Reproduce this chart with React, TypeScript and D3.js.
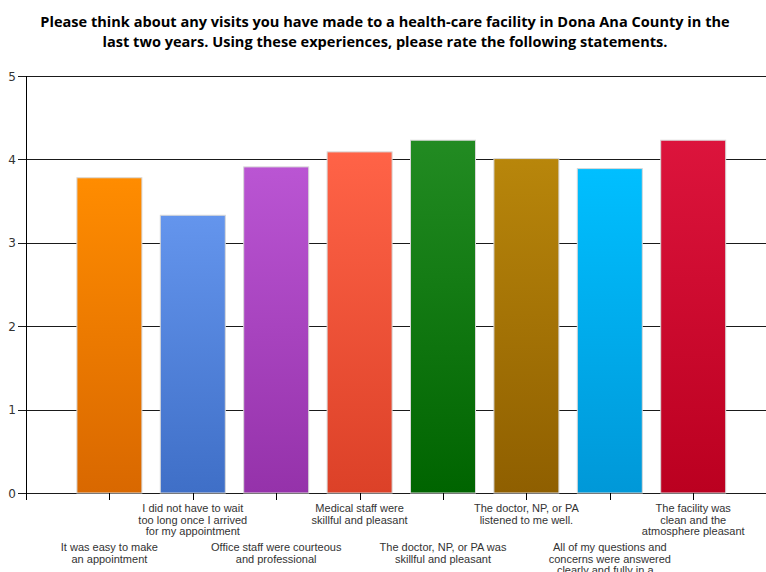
import React, { useEffect, useRef } from "react";
import * as d3 from "d3";

const WIDTH = 766;
const HEIGHT = 572;

const titleLines = [
  "Please think about any visits you have made to a health-care facility in Dona Ana County in the",
  "last two years. Using these experiences, please rate the following statements.",
];

const statements = [
  ["It was easy to make", "an appointment"],
  ["I did not have to wait", "too long once I arrived", "for my appointment"],
  ["Office staff were courteous", "and professional"],
  ["Medical staff were", "skillful and pleasant"],
  ["The doctor, NP, or PA was", "skillful and pleasant"],
  ["The doctor, NP, or PA", "listened to me well."],
  ["All of my questions and", "concerns were answered", "clearly and fully in a..."],
  ["The facility was", "clean and the", "atmosphere pleasant"],
];

const ratings = [3.78, 3.33, 3.91, 4.09, 4.23, 4.01, 3.89, 4.23];

const topColors = ["#ff8c00", "#6495ed", "#ba55d3", "#ff6347", "#228b22", "#b8860b", "#00bfff", "#dc143c"];
const bottomColors = ["#d96800", "#3f6fc7", "#9532aa", "#dc4128", "#006400", "#8f5f00", "#0098d8", "#bb0020"];

const yTicks = [0, 1, 2, 3, 4, 5];

export default function App() {
  const ref = useRef<SVGSVGElement | null>(null);

  useEffect(() => {
    const svg = d3.select(ref.current);
    svg.selectAll("*").remove();

    const left = 26;
    const top = 76;
    const bottom = 493;

    const y = d3.scaleLinear().domain([0, 5]).range([bottom, top]);
    // categories sit at 1..8 on a 0..9 linear domain
    const x = d3.scaleLinear().domain([0, 9]).range([left, left + 9 * 83.4]);
    const barW = 65;

    const defs = svg.append("defs");
    ratings.forEach((_, i) => {
      const g = defs
        .append("linearGradient")
        .attr("id", `grad${i}`)
        .attr("x1", 0)
        .attr("y1", 0)
        .attr("x2", 0)
        .attr("y2", 1);
      g.append("stop").attr("offset", "0%").attr("stop-color", topColors[i]);
      g.append("stop").attr("offset", "100%").attr("stop-color", bottomColors[i]);
    });

    // title
    const title = svg
      .append("g")
      .selectAll("text")
      .data(titleLines)
      .join("text")
      .attr("x", 385)
      .attr("y", (_, i) => 27 + i * 20)
      .attr("text-anchor", "middle")
      .attr("font-family", "Open Sans, Liberation Sans, sans-serif")
      .attr("font-weight", "bold")
      .attr("font-size", 14)
      .attr("fill", "#000")
      .text((d) => d);
    // fit the first line to its set width; the second keeps the same scale
    const w0 = (title.node() as SVGTextElement).getComputedTextLength();
    const fs = 14 * (690 / w0);
    title.attr("font-size", fs);

    // horizontal grid lines
    svg
      .append("g")
      .selectAll("line")
      .data(yTicks)
      .join("line")
      .attr("x1", left - 8)
      .attr("x2", WIDTH)
      .attr("y1", (d) => Math.round(y(d)) + 0.5)
      .attr("y2", (d) => Math.round(y(d)) + 0.5)
      .attr("stroke", "#1a1a1a")
      .attr("stroke-width", 1);

    // y tick labels
    svg
      .append("g")
      .selectAll("text")
      .data(yTicks)
      .join("text")
      .attr("x", 16)
      .attr("y", (d) => y(d) + 4.5)
      .attr("text-anchor", "end")
      .attr("font-family", "DejaVu Sans, sans-serif")
      .attr("font-size", 12)
      .attr("fill", "#333")
      .text((d) => d);

    // bars
    svg
      .append("g")
      .selectAll("rect")
      .data(ratings)
      .join("rect")
      .attr("x", (_, i) => x(i + 1) - barW / 2)
      .attr("y", (d) => y(d))
      .attr("width", barW)
      .attr("height", (d) => y(0) - y(d))
      .attr("fill", (_, i) => `url(#grad${i})`)
      .attr("stroke", "#d8d8d8")
      .attr("stroke-width", 1);

    // y axis line
    svg
      .append("line")
      .attr("x1", left + 0.5)
      .attr("x2", left + 0.5)
      .attr("y1", top)
      .attr("y2", bottom + 7)
      .attr("stroke", "#000");

    // category ticks
    svg
      .append("g")
      .selectAll("line")
      .data(ratings)
      .join("line")
      .attr("x1", (_, i) => Math.round(x(i + 1)) + 0.5)
      .attr("x2", (_, i) => Math.round(x(i + 1)) + 0.5)
      .attr("y1", bottom)
      .attr("y2", bottom + 7)
      .attr("stroke", "#000");

    // category labels, staggered on two rows
    const lab = svg
      .append("g")
      .selectAll("text")
      .data(statements)
      .join("text")
      .attr("text-anchor", "middle")
      .attr("font-family", "Liberation Sans, Arial, sans-serif")
      .attr("font-size", 11)
      .attr("fill", "#333");
    lab.each(function (lines, i) {
      const cx = x(i + 1);
      const y0 = i % 2 === 0 ? 551 : 512;
      d3.select(this)
        .selectAll("tspan")
        .data(lines)
        .join("tspan")
        .attr("x", cx)
        .attr("y", (_, j) => y0 + j * 11.5)
        .text((d) => d);
    });
  }, []);

  return (
    <svg
      ref={ref}
      width={WIDTH}
      height={HEIGHT}
      style={{ position: "absolute", left: 0, top: 0, background: "#fff" }}
    />
  );
}
